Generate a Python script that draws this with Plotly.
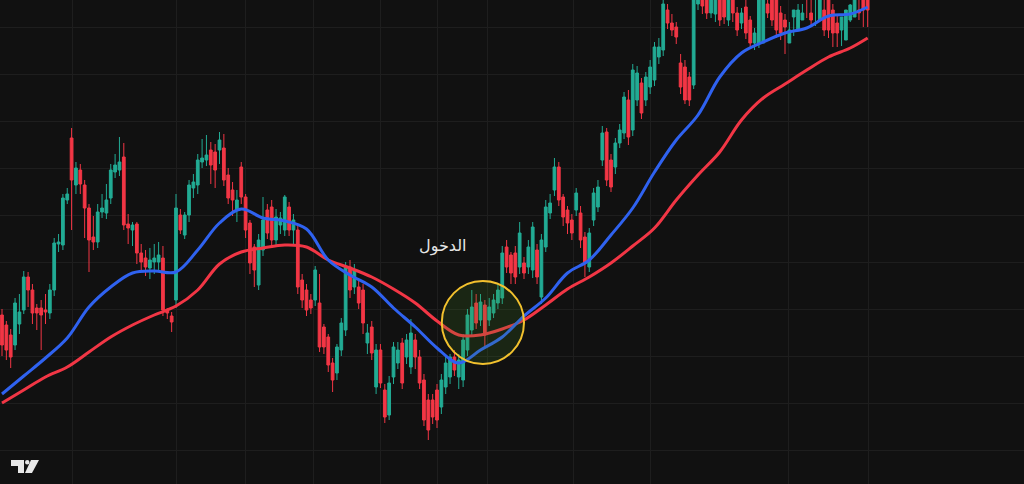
import plotly.graph_objects as go

# ================================
# Dados (unidades de preço arbitrárias, escala sem eixo visível)
# ================================
opens = [169, 159, 149, 139, 160, 174, 207, 194, 176, 176, 174, 171, 194, 240, 239, 284, 346, 299, 314, 299,
         276, 247, 242, 272, 271, 286, 312, 314, 327, 260, 254, 260, 231, 226, 216, 222, 222, 226, 174, 168,
         184, 269, 249, 269, 296, 299, 322, 324, 334, 332, 334, 336, 309, 294, 274, 317, 287, 261, 237, 199,
         234, 274, 277, 244, 259, 254, 277, 254, 254, 204, 194, 184, 184, 181, 157, 147, 121, 111, 134, 154,
         217, 197, 197, 194, 141, 157, 97, 134, 94, 69, 107, 121, 141, 127, 117, 144, 127, 104, 84, 84,
         94, 77, 97, 107, 127, 107, 104, 134, 154, 181, 164, 179, 164, 171, 181, 186, 237, 229, 231, 217,
         221, 217, 214, 234, 187, 237, 271, 294, 317, 287, 274, 264, 274, 271, 247, 217, 264, 277, 324, 352,
         324, 317, 341, 351, 384, 354, 384, 401, 384, 397, 404, 427, 434, 474, 461, 457, 421, 417, 407, 399,
         480, 486, 490, 471, 470, 488, 486, 464, 488, 471, 461, 477, 464, 441, 441, 441, 480, 490, 488, 471,
         464, 441, 467, 454, 464, 490, 471, 488, 464, 474, 486, 474, 461, 454, 444, 464, 467, 474, 488, 486]
highs = [175, 163, 155, 186, 190, 213, 212, 200, 180, 184, 190, 200, 246, 250, 290, 296, 356, 322, 320, 304,
         280, 268, 280, 290, 300, 320, 330, 347, 341, 270, 262, 262, 240, 234, 236, 240, 242, 238, 176, 172,
         290, 275, 272, 304, 310, 330, 345, 349, 342, 340, 352, 350, 316, 302, 294, 322, 290, 264, 240, 250,
         287, 280, 284, 275, 272, 289, 282, 270, 258, 210, 200, 190, 218, 210, 160, 150, 126, 140, 166, 222,
         224, 220, 205, 200, 160, 163, 140, 140, 100, 108, 142, 142, 146, 150, 165, 150, 134, 110, 90, 90,
         100, 110, 127, 130, 134, 130, 150, 175, 194, 190, 190, 184, 186, 190, 200, 238, 244, 232, 238, 262,
         227, 244, 262, 240, 250, 284, 290, 326, 322, 290, 278, 270, 296, 278, 252, 256, 296, 304, 358, 356,
         330, 346, 360, 392, 394, 420, 418, 406, 412, 424, 442, 446, 494, 480, 470, 462, 430, 424, 412, 500,
         500, 500, 498, 500, 500, 495, 492, 495, 494, 477, 476, 484, 468, 456, 500, 500, 500, 498, 496, 478,
         470, 462, 474, 480, 480, 498, 496, 494, 496, 496, 492, 480, 468, 460, 472, 480, 486, 496, 496, 492]
lows = [128, 124, 116, 134, 150, 170, 177, 160, 154, 134, 160, 165, 188, 232, 234, 280, 254, 290, 290, 246,
        212, 234, 236, 266, 265, 280, 306, 308, 254, 240, 238, 220, 212, 208, 205, 210, 214, 168, 165, 152,
        176, 250, 245, 262, 286, 290, 316, 318, 300, 296, 320, 298, 280, 268, 262, 280, 246, 210, 197, 194,
        228, 245, 236, 238, 250, 248, 248, 240, 190, 176, 168, 170, 178, 132, 130, 112, 92, 104, 128, 148,
        186, 190, 175, 150, 130, 124, 90, 96, 61, 64, 100, 115, 95, 120, 110, 115, 95, 58, 44, 60,
        56, 70, 90, 100, 108, 95, 97, 128, 148, 155, 158, 137, 158, 166, 175, 180, 211, 200, 200, 210,
        205, 210, 206, 200, 180, 232, 265, 288, 278, 258, 250, 244, 268, 236, 207, 212, 258, 272, 318, 298,
        292, 310, 336, 345, 339, 348, 378, 365, 378, 390, 398, 420, 428, 455, 448, 440, 390, 380, 378, 395,
        474, 470, 465, 466, 462, 458, 460, 458, 462, 448, 455, 445, 437, 434, 436, 474, 466, 458, 446, 444,
        430, 448, 448, 458, 464, 466, 458, 458, 468, 448, 446, 437, 437, 438, 458, 462, 468, 464, 457, 457]
closes = [139, 134, 127, 181, 172, 207, 194, 171, 171, 169, 172, 194, 241, 242, 286, 290, 304, 316, 300, 276,
          244, 242, 272, 276, 284, 314, 319, 322, 259, 256, 259, 231, 222, 217, 224, 226, 229, 174, 171, 162,
          276, 254, 269, 299, 302, 324, 326, 329, 319, 314, 344, 304, 286, 284, 284, 287, 254, 221, 214, 244,
          264, 251, 244, 267, 266, 287, 254, 264, 197, 184, 174, 176, 214, 137, 137, 119, 104, 137, 161, 217,
          194, 214, 181, 161, 151, 131, 134, 101, 67, 101, 137, 134, 101, 144, 151, 127, 101, 64, 54, 67,
          64, 104, 121, 127, 114, 124, 144, 169, 177, 161, 182, 149, 177, 184, 194, 231, 217, 211, 207, 251,
          211, 237, 257, 207, 244, 277, 281, 317, 284, 267, 261, 251, 291, 244, 221, 251, 291, 297, 351, 304,
          297, 341, 354, 387, 347, 414, 411, 371, 407, 417, 437, 437, 480, 461, 454, 447, 397, 384, 384, 484,
          490, 478, 471, 488, 492, 464, 467, 486, 471, 454, 471, 451, 441, 451, 486, 488, 471, 464, 454, 451,
          457, 454, 474, 474, 471, 486, 464, 488, 484, 454, 454, 451, 451, 467, 474, 479, 486, 471, 474, 474]

# Médias móveis (índice do candle)
ma_idx = list(range(0, 200, 5)) + [199]
ma_rapida = [90, 108, 126, 146, 177, 197, 211, 213, 212, 234, 261, 275, 266, 263, 255, 224, 209, 197, 176, 157,
             136, 121, 134, 147, 168, 186, 211, 224, 249, 276, 312, 344, 369, 407, 431, 442, 451, 456, 468, 470, 477]
ma_lenta = [81, 94, 107, 117, 132, 147, 159, 169, 178, 194, 220, 232, 236, 239, 237, 224, 216, 207, 195, 181,
            163, 149, 149, 155, 164, 179, 195, 207, 221, 238, 256, 284, 309, 332, 364, 386, 400, 414, 427, 436, 446]

grade_x = [16.1, 40.2, 55.9, 71.7, 87.0, 100.2, 111.7, 131.3, 149.0, 180.7, 199.1]
texto_entrada = "الدخول"

# ================================
# Figura
# ================================
W, H = 1024, 484
BG = "#111111"
GRID = "#1e1e1e"

fig = go.Figure()
fig.add_trace(go.Candlestick(
    x=list(range(len(opens))), open=opens, high=highs, low=lows, close=closes,
    increasing=dict(line=dict(color="#22ab94", width=1), fillcolor="#22ab94"),
    decreasing=dict(line=dict(color="#f23645", width=1), fillcolor="#f23645"),
    whiskerwidth=0, hoverinfo="skip", showlegend=False))
fig.add_trace(go.Scatter(x=ma_idx, y=ma_lenta, mode="lines", line=dict(color="#f23645", width=3, shape="spline"),
                         hoverinfo="skip", showlegend=False))
fig.add_trace(go.Scatter(x=ma_idx, y=ma_rapida, mode="lines", line=dict(color="#2f62f0", width=3, shape="spline"),
                         hoverinfo="skip", showlegend=False))

# círculo de entrada
cx0, cx1, cy0, cy1 = 101.1, 120.0, 120, 203
fig.add_shape(type="circle", xref="x", yref="y", x0=cx0, x1=cx1, y0=cy0, y1=cy1,
              line=dict(color="#f2c12e", width=2), fillcolor="rgba(70,140,40,0.18)", layer="above")
fig.add_annotation(x=101.3, y=239, text=texto_entrada, showarrow=False,
                   font=dict(family="Noto Sans, DejaVu Sans", size=16, color="#e6e6e6"))

# logo TV (canto inferior esquerdo)
def px(x, y):
    return x / W, 1 - y / H

def caminho(pts):
    s = ""
    for k, (x, y) in enumerate(pts):
        a, b = px(x, y)
        s += ("M" if k == 0 else "L") + f"{a:.5f},{b:.5f} "
    return s + "Z"

LOGO = "#e8e8e8"
fig.add_shape(type="path", xref="paper", yref="paper", line_width=0, fillcolor=LOGO,
              path=caminho([(11, 460), (24, 460), (24, 473), (18, 473), (18, 466), (11, 466)]))
fig.add_shape(type="path", xref="paper", yref="paper", line_width=0, fillcolor=LOGO,
              path=caminho([(31, 460), (39, 460), (32, 473), (25, 473)]))
a0, b0 = px(25, 460)
a1, b1 = px(29.5, 464.5)
fig.add_shape(type="circle", xref="paper", yref="paper", x0=a0, y0=b1, x1=a1, y1=b0,
              line_width=0, fillcolor=LOGO)

fig.update_layout(
    width=W, height=H, margin=dict(l=0, r=0, t=0, b=0),
    paper_bgcolor=BG, plot_bgcolor=BG, boxgap=0.1,
    xaxis=dict(range=[-0.46, 234.94], showticklabels=False, tickvals=grade_x, gridcolor=GRID,
               zeroline=False, rangeslider=dict(visible=False), fixedrange=True),
    yaxis=dict(range=[0, 484], showticklabels=False, tick0=34, dtick=47, gridcolor=GRID,
               zeroline=False, fixedrange=True),
)

fig.write_html("out.html", config={"displayModeBar": False},
               post_script="document.body.style.margin='0';document.body.style.background='#111111';")
